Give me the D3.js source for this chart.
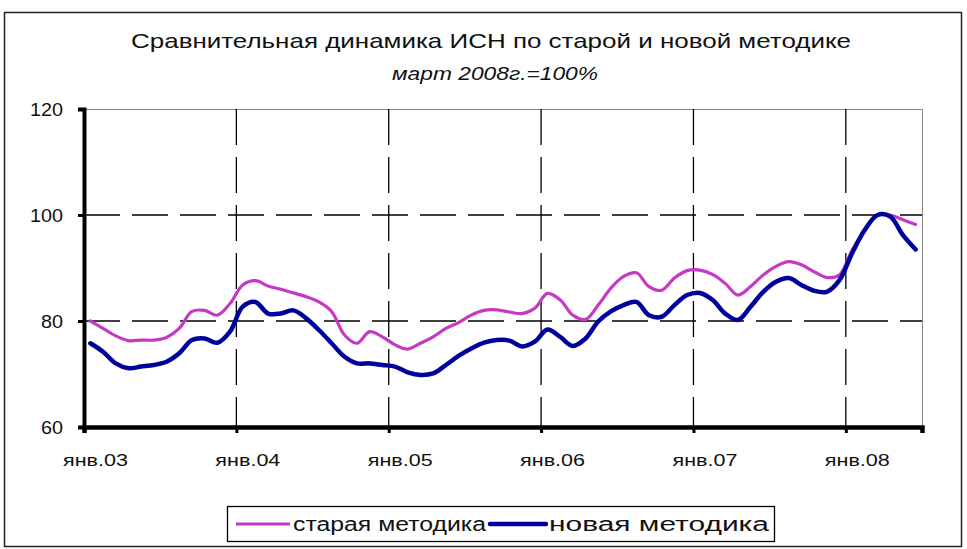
<!DOCTYPE html>
<html>
<head>
<meta charset="utf-8">
<script src="https://cdn.jsdelivr.net/npm/d3@7"></script>
<style>
  html, body { margin: 0; padding: 0; background: #fff; }
  svg { display: block; font-family: "Liberation Sans", Arial, sans-serif; }
</style>
</head>
<body>
<svg id="chart" width="967" height="549"></svg>
<script>
// ---- data (monthly, Jan 2003 .. Jun 2008; March 2008 = 100) ----
const months = d3.range(66).map(i => new Date(2003, i, 1));
const oldMethod = [
  80.0, 78.6, 77.2, 76.3, 76.4, 76.4, 76.9, 78.6, 81.8, 82.0, 81.1, 83.3,
  86.8, 87.6, 86.6, 86.0, 85.3, 84.6, 83.6, 81.8, 77.4, 75.8, 78.0, 77.0,
  75.5, 74.7, 75.8, 77.0, 78.6, 79.7, 81.1, 82.0, 82.1, 81.7, 81.4, 82.4,
  85.2, 84.0, 81.1, 80.3, 83.0, 86.2, 88.4, 89.1, 86.5, 85.8, 88.1, 89.5,
  89.6, 88.8, 87.1, 84.9, 86.5, 88.7, 90.3, 91.2, 90.6, 89.3, 88.2, 88.7,
  93.4, 97.2, 100.0, 100.0, 99.1, 98.2
];
const newMethod = [
  75.8, 74.2, 72.0, 71.1, 71.4, 71.7, 72.3, 73.9, 76.4, 76.7, 75.9, 78.0,
  82.7, 83.6, 81.4, 81.4, 82.0, 80.5, 78.3, 75.8, 73.3, 72.0, 72.0, 71.7,
  71.4, 70.3, 69.8, 70.1, 71.7, 73.4, 74.8, 75.9, 76.4, 76.3, 75.2, 76.1,
  78.4, 77.0, 75.3, 76.7, 79.9, 81.8, 83.0, 83.6, 81.1, 80.8, 83.0, 84.9,
  85.3, 84.0, 81.4, 80.2, 82.7, 85.5, 87.4, 88.1, 86.8, 85.7, 85.5, 87.7,
  92.8, 97.2, 100.0, 99.7, 96.2, 93.5
];
const yTicks = [60, 80, 100, 120];
const xTickLabels = ["янв.03", "янв.04", "янв.05", "янв.06", "янв.07", "янв.08"];
const seriesNames = ["старая методика", "новая методика"];
const titleText = "Сравнительная динамика ИСН по старой и новой методике";
const subtitleText = "март 2008г.=100%";

// ---- layout ----
const svg = d3.select("#chart");
const L = 84, R = 922, T = 109, B = 427;
const x = d3.scaleLinear().domain([0, 66]).range([L, R]);
const y = d3.scaleLinear().domain([60, 120]).range([B, T]);

function fitText(sel, w) {
  sel.attr("textLength", w).attr("lengthAdjust", "spacingAndGlyphs");
}

// outer frame
svg.append("rect").attr("x", 4.5).attr("y", 12.5).attr("width", 957).attr("height", 534)
  .attr("fill", "#fff").attr("stroke", "#222").attr("stroke-width", 1.5);

// title
svg.append("text").attr("x", 491).attr("y", 48).attr("text-anchor", "middle")
  .attr("font-size", 21).attr("fill", "#111").text(titleText).call(fitText, 720);
svg.append("text").attr("x", 495).attr("y", 80).attr("text-anchor", "middle")
  .attr("font-size", 19).attr("font-style", "italic").attr("fill", "#111")
  .text(subtitleText).call(fitText, 206);

// plot frame (thin gray top/right)
svg.append("path").attr("d", `M${L},${T + 0.5}H${R + 0.5}V${B}`)
  .attr("fill", "none").attr("stroke", "#888").attr("stroke-width", 1);

// horizontal dashed grid
svg.append("g").selectAll("line").data(yTicks.filter(v => v > 60 && v < 120)).join("line")
  .attr("x1", L).attr("x2", R).attr("y1", d => y(d)).attr("y2", d => y(d))
  .attr("stroke", "#000").attr("stroke-width", 1.3).attr("stroke-dasharray", "36,12");

// vertical dashed grid at January of each year
const yearIdx = xTickLabels.map((_, i) => i * 12);
svg.append("g").selectAll("line").data(yearIdx.filter(i => i > 0)).join("line")
  .attr("x1", d => x(d)).attr("x2", d => x(d)).attr("y1", T).attr("y2", B)
  .attr("stroke", "#000").attr("stroke-width", 1.3).attr("stroke-dasharray", "36,12");

// lines
const line = d3.line().x((d, i) => x(i + 0.5)).y(d => y(d)).curve(d3.curveCatmullRom.alpha(0.5));
svg.append("path").datum(oldMethod).attr("d", line)
  .attr("fill", "none").attr("stroke", "#c43ac4").attr("stroke-width", 3.2)
  .attr("stroke-linejoin", "round").attr("stroke-linecap", "round");
svg.append("path").datum(newMethod).attr("d", line)
  .attr("fill", "none").attr("stroke", "#00009c").attr("stroke-width", 4.5)
  .attr("stroke-linejoin", "round").attr("stroke-linecap", "round");

// y axis
const yAxis = d3.axisLeft(y).tickValues(yTicks).tickSize(6).tickPadding(15).tickFormat(d3.format("d"));
const gy = svg.append("g").attr("transform", `translate(${L},0)`).call(yAxis);
gy.select(".domain").attr("stroke", "#000").attr("stroke-width", 4);
gy.selectAll(".tick line").attr("stroke", "#000").attr("stroke-width", 3);
gy.selectAll(".tick text").attr("font-size", 19).attr("fill", "#111")
  .attr("font-family", "'Liberation Sans', Arial, sans-serif")
  .each(function(d) { d3.select(this).call(fitText, String(d).length * 11); });

// x axis
const xAxis = d3.axisBottom(x).tickValues(yearIdx).tickSize(6).tickPadding(21)
  .tickFormat((d, i) => xTickLabels[i]);
const gx = svg.append("g").attr("transform", `translate(0,${B})`).call(xAxis);
gx.select(".domain").attr("stroke", "#000").attr("stroke-width", 4.5);
gx.selectAll(".tick line").attr("stroke", "#000").attr("stroke-width", 3);
gx.selectAll(".tick text").attr("font-size", 17).attr("fill", "#111")
  .attr("font-family", "'Liberation Sans', Arial, sans-serif")
  .attr("dx", 11).call(fitText, 65);

// legend
const lg = svg.append("g");
lg.append("rect").attr("x", 227.5).attr("y", 506.5).attr("width", 547).attr("height", 35)
  .attr("fill", "#fff").attr("stroke", "#000").attr("stroke-width", 1.3);
lg.append("line").attr("x1", 236).attr("x2", 290).attr("y1", 524).attr("y2", 524)
  .attr("stroke", "#c43ac4").attr("stroke-width", 3);
lg.append("text").attr("x", 293).attr("y", 531).attr("font-size", 20).attr("fill", "#111")
  .text(seriesNames[0]).call(fitText, 193);
lg.append("line").attr("x1", 490).attr("x2", 546).attr("y1", 524).attr("y2", 524)
  .attr("stroke", "#00009c").attr("stroke-width", 4.5).attr("stroke-linecap", "round");
lg.append("text").attr("x", 549).attr("y", 531).attr("font-size", 20).attr("fill", "#111")
  .text(seriesNames[1]).call(fitText, 220);
</script>
</body>
</html>
